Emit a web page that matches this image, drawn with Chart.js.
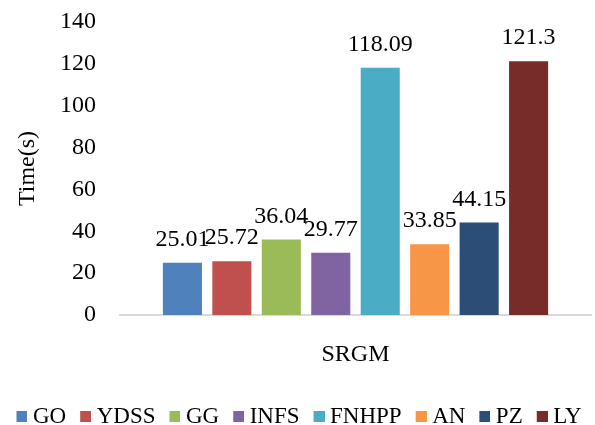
<!DOCTYPE html>
<html>
<head>
<meta charset="utf-8">
<script src="https://cdn.jsdelivr.net/npm/chart.js@4/dist/chart.umd.min.js"></script>
<style>
  html, body { margin: 0; padding: 0; background: #fff; }
  #wrap { width: 595px; height: 425px; position: relative; }
</style>
</head>
<body>
<div id="wrap"><canvas id="c" width="595" height="425"></canvas></div>
<script>
const categories = ["SRGM"];
const seriesNames = ["GO", "YDSS", "GG", "INFS", "FNHPP", "AN", "PZ", "LY"];
const seriesValues = [25.01, 25.72, 36.04, 29.77, 118.09, 33.85, 44.15, 121.3];
const seriesColors = ["#4F81BD", "#C0504D", "#9BBB59", "#8064A2", "#4BACC6", "#F79646", "#2C4D75", "#772C2A"];
const yTicks = [0, 20, 40, 60, 80, 100, 120, 140];

const FONT = "'Liberation Serif', 'Times New Roman', serif";

// legend swatch: square shifted right inside a wider transparent canvas
function swatch(color) {
  const cv = document.createElement('canvas');
  cv.width = 24; cv.height = 11;
  const c = cv.getContext('2d');
  c.fillStyle = color;
  c.fillRect(13, 0, 11, 11);
  return cv;
}

const valueLabels = {
  id: 'valueLabels',
  afterDatasetsDraw(chart) {
    const ctx = chart.ctx;
    ctx.save();
    ctx.font = "24px " + FONT;
    ctx.fillStyle = "#000";
    ctx.textAlign = "center";
    ctx.textBaseline = "alphabetic";
    chart.data.datasets.forEach((ds, i) => {
      const meta = chart.getDatasetMeta(i);
      meta.data.forEach((bar, j) => {
        ctx.fillText(String(ds.data[j]), bar.x, bar.y - 17);
      });
    });
    ctx.restore();
  }
};

new Chart(document.getElementById('c'), {
  type: 'bar',
  data: {
    labels: categories,
    datasets: seriesNames.map((n, i) => ({
      label: n,
      data: [seriesValues[i]],
      backgroundColor: seriesColors[i],
      borderWidth: 0,
      categoryPercentage: 0.84,
      barPercentage: 0.79
    }))
  },
  options: {
    responsive: false,
    animation: false,
    devicePixelRatio: 1,
    layout: { padding: { top: 22, right: 4, left: 0, bottom: -13 } },
    plugins: {
      legend: {
        position: 'bottom',
        labels: {
          font: { family: FONT, size: 23 },
          color: '#000',
          usePointStyle: true,
          pointStyleWidth: 12,
          boxWidth: 12,
          boxHeight: 11,
          padding: 7,
          generateLabels(chart) {
            const items = Chart.defaults.plugins.legend.labels.generateLabels(chart);
            items.forEach((it, i) => { it.pointStyle = swatch(seriesColors[i]); });
            return items;
          }
        }
      },
      tooltip: { enabled: false }
    },
    scales: {
      x: {
        grid: { display: false, drawTicks: false },
        border: { display: true, color: '#D9D9D9', width: 2 },
        ticks: { font: { family: FONT, size: 24 }, color: '#000', padding: 25 },
        afterFit(s) { s.height = 83; }
      },
      y: {
        min: 0, max: 140,
        afterBuildTicks(s) { s.ticks = yTicks.map(v => ({ value: v })); },
        grid: { display: false, drawTicks: false },
        border: { display: false },
        ticks: { font: { family: FONT, size: 24 }, color: '#000', padding: 24 },
        title: { display: true, text: 'Time(s)', font: { family: FONT, size: 24 }, color: '#000', padding: { top: 13, bottom: 0 } },
        afterFit(s) { s.width = 120; s.paddingTop = 0; s.paddingBottom = 0; }
      }
    }
  },
  plugins: [valueLabels]
});
</script>
</body>
</html>
